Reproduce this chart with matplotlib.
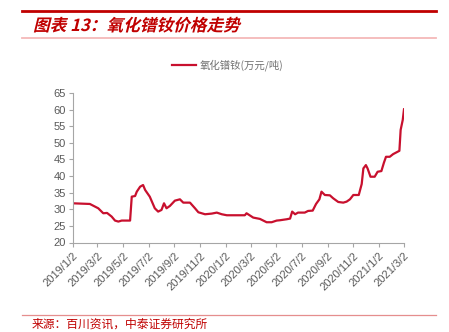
import matplotlib
matplotlib.use("Agg")
import matplotlib.pyplot as plt
import pandas as pd
from matplotlib.lines import Line2D
from matplotlib.patches import PathPatch
from matplotlib.textpath import TextPath
from matplotlib.font_manager import FontProperties
from matplotlib.transforms import Affine2D

# 氧化镨钕 price, 万元/吨
dates = [
    "2019-01-02", "2019-02-12", "2019-03-04", "2019-03-16", "2019-03-25",
    "2019-04-05", "2019-04-13", "2019-04-21", "2019-04-29", "2019-05-19",
    "2019-05-23", "2019-05-31", "2019-06-04", "2019-06-12", "2019-06-19",
    "2019-06-24", "2019-07-05", "2019-07-17", "2019-07-25", "2019-08-02",
    "2019-08-08", "2019-08-14", "2019-08-22", "2019-09-03", "2019-09-15",
    "2019-09-23", "2019-10-09", "2019-10-21", "2019-10-29", "2019-11-14",
    "2019-11-30", "2019-12-12", "2019-12-24", "2020-01-05", "2020-02-17",
    "2020-02-21", "2020-03-08", "2020-03-24", "2020-04-09", "2020-04-21",
    "2020-05-03", "2020-05-11", "2020-05-27", "2020-06-04", "2020-06-09",
    "2020-06-16", "2020-06-23", "2020-07-09", "2020-07-17", "2020-07-28",
    "2020-08-05", "2020-08-13", "2020-08-18", "2020-08-26", "2020-09-07",
    "2020-09-15", "2020-09-27", "2020-10-09", "2020-10-17", "2020-10-25",
    "2020-11-02", "2020-11-15", "2020-11-22", "2020-11-26", "2020-12-02",
    "2020-12-06", "2020-12-13", "2020-12-23", "2020-12-30", "2021-01-08",
    "2021-01-14", "2021-01-19", "2021-01-28", "2021-02-05", "2021-02-20",
    "2021-02-23", "2021-02-28", "2021-03-03",
]
prices = [
    31.8, 31.6, 30.3, 28.8, 28.9,
    27.8, 26.6, 26.3, 26.6, 26.6,
    33.8, 34.0, 35.3, 36.8, 37.3,
    35.8, 33.8, 30.3, 29.3, 29.8,
    31.8, 30.3, 31.0, 32.6, 33.0,
    32.0, 32.0, 30.3, 29.1, 28.5,
    28.7, 29.0, 28.5, 28.2, 28.2,
    28.8, 27.5, 27.1, 26.1, 26.1,
    26.6, 26.7, 27.0, 27.2, 29.3,
    28.5, 29.0, 29.0, 29.5, 29.6,
    31.6, 33.0, 35.3, 34.3, 34.2,
    33.3, 32.2, 32.0, 32.3, 33.0,
    34.3, 34.3, 37.6, 42.3, 43.3,
    42.3, 39.8, 39.8, 41.3, 41.5,
    44.0, 45.8, 45.8, 46.6, 47.6,
    53.9, 56.9, 60.1,
]
tick_labels = [
    "2019/1/2", "2019/3/2", "2019/5/2", "2019/7/2", "2019/9/2",
    "2019/11/2", "2020/1/2", "2020/3/2", "2020/5/2", "2020/7/2",
    "2020/9/2", "2020/11/2", "2021/1/2", "2021/3/2",
]
y_ticks = [20, 25, 30, 35, 40, 45, 50, 55, 60, 65]

RED = "#C00000"
LINE_RED = "#C8102E"
GRAY = "#595959"
CJK = ["Noto Sans CJK SC", "DejaVu Sans"]

W, H = 449, 332
fig = plt.figure(figsize=(W / 100, H / 100), dpi=100)

ax = fig.add_axes([72.7 / W, 1 - 242.5 / H, (404 - 72.7) / W, (242.5 - 93) / H])
x = pd.to_datetime(dates)
ax.plot(x, prices, color=LINE_RED, lw=1.6, label="氧化镨钕(万元/吨)")

ticks = pd.to_datetime(tick_labels, format="%Y/%m/%d")
ax.set_xticks(ticks)
ax.set_xticklabels(tick_labels, rotation=45, ha="right", va="top",
                   rotation_mode="anchor", fontsize=8, color=GRAY,
                   family="Liberation Sans")
ax.set_xlim(pd.Timestamp("2019-01-02"), pd.Timestamp("2021-03-03"))
ax.set_ylim(20, 65)
ax.set_yticks(y_ticks)
ax.set_yticklabels([str(v) for v in y_ticks], fontsize=8, color=GRAY,
                   family="Liberation Sans")

for side in ("top", "right"):
    ax.spines[side].set_visible(False)
for side in ("left", "bottom"):
    ax.spines[side].set_color("#A6A6A6")
    ax.spines[side].set_linewidth(0.8)
ax.tick_params(axis="both", color="#A6A6A6", length=3, width=0.8)
ax.tick_params(axis="x", pad=3)
ax.tick_params(axis="y", pad=2)

fig.legend(loc="center", bbox_to_anchor=(228 / W, 1 - 65.5 / H),
           frameon=False, prop={"family": CJK, "size": 7.5},
           labelcolor="#707070", handlelength=2.3, handletextpad=0.4)

# header and footer rules
def rule(y_px, color, lw):
    fig.add_artist(Line2D([22 / W, 436 / W], [1 - y_px / H] * 2,
                          transform=fig.transFigure, color=color, lw=lw))

rule(11, RED, 2.0)
rule(38, "#F4B9B9", 1.3)
rule(315, "#E58E8E", 0.9)

# slanted title drawn as a skewed text path
title_font = FontProperties(family="Noto Sans CJK SC", weight="bold")
tp = TextPath((0, 0), "图表 13：氧化镨钕价格走势", size=12, prop=title_font)
tr = (Affine2D().skew_deg(14, 0).scale(1 / 72)
      .translate(33 / 100, (H - 31) / 100) + fig.dpi_scale_trans)
fig.add_artist(PathPatch(tp, transform=tr, color=RED, lw=0))

fig.text(32 / W, 1 / H, "来源：百川资讯，中泰证券研究所", color=RED,
         fontsize=8.5, family=CJK, va="bottom", ha="left")

fig.savefig("out.png", dpi=100)
